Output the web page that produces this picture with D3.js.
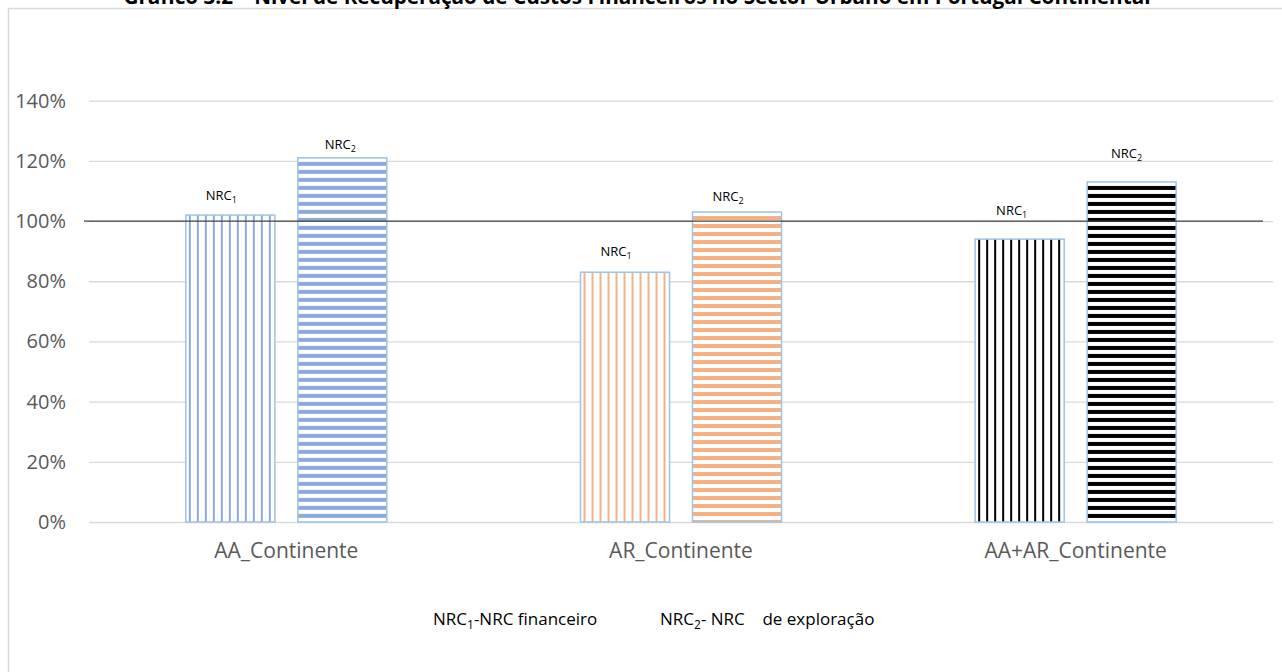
<!DOCTYPE html>
<html>
<head>
<meta charset="utf-8">
<script src="https://cdn.jsdelivr.net/npm/d3@7"></script>
<style>
  body { margin: 0; background: #fff; }
  svg { display: block; font-family: "Open Sans", Lato, sans-serif; }
</style>
</head>
<body>
<svg width="1282" height="672"></svg>
<script>
// data
var categories = ["AA_Continente", "AR_Continente", "AA+AR_Continente"];
var series = ["NRC1", "NRC2"];
var seriesSub = ["1", "2"];
var nrc1 = [1.02, 0.83, 0.94];
var nrc2 = [1.21, 1.03, 1.13];
var categoryColors = ["#8eaadb", "#f4b183", "#000000"];
var yTicks = [0, 0.2, 0.4, 0.6, 0.8, 1.0, 1.2, 1.4];
var refValue = 1.0;
var legendTexts = ["-NRC financeiro", "- NRC\u00a0\u00a0\u00a0 de exploração"];
var title = "Gráfico 3.2 – Nível de Recuperação de Custos Financeiros no Sector Urbano em Portugal Continental";

// the data labels were placed by hand in the original, nudge them the same way
var labelNudge = [[-9, 19], [-2, 13], [-9, 20], [-9, 15], [-8, 28], [-5, 28]];

var svg = d3.select("svg");

var plotLeft = 89, plotRight = 1273, plotTop = 100.7, plotBottom = 522;

// chart frame (runs off the right and bottom of the picture)
svg.append("rect")
    .attr("x", 8.5).attr("y", 8.5)
    .attr("width", 1300).attr("height", 700)
    .attr("fill", "#fff")
    .attr("stroke", "#d9d9d9")
    .attr("stroke-width", 1.5);

svg.append("text")
    .attr("x", 637).attr("y", 4)
    .attr("text-anchor", "middle")
    .attr("font-size", 20.7)
    .attr("font-weight", "bold")
    .attr("fill", "#000")
    .text(title);

var x0 = d3.scaleBand()
    .domain(categories)
    .range([plotLeft, plotRight]);

var x1 = d3.scaleBand()
    .domain(series)
    .range([x0.bandwidth() / 2 - 100.5, x0.bandwidth() / 2 + 100.5])
    .paddingInner(0.205);

var y = d3.scaleLinear()
    .domain([0, 1.4])
    .range([plotBottom, plotTop]);

// gridlines
var grid = svg.append("g")
    .attr("transform", "translate(" + plotLeft + ",0)")
    .call(d3.axisLeft(y).tickValues(yTicks).tickSize(-(plotRight - plotLeft)).tickFormat(""));
grid.select(".domain").remove();
grid.selectAll("line").attr("stroke", "#d9d9d9").attr("stroke-width", 1.3);

// y labels
var yAxis = svg.append("g")
    .attr("transform", "translate(" + plotLeft + ",0)")
    .call(d3.axisLeft(y).tickValues(yTicks).tickSize(0).tickPadding(23).tickFormat(d3.format(".0%")));
yAxis.select(".domain").remove();
yAxis.selectAll("text")
    .attr("font-size", 20)
    .attr("font-family", "'Open Sans', Lato, sans-serif")
    .attr("fill", "#595959");

// x labels
var xAxis = svg.append("g")
    .attr("transform", "translate(0," + plotBottom + ")")
    .call(d3.axisBottom(x0).tickSize(0));
xAxis.select(".domain").remove();
xAxis.selectAll("text")
    .attr("dy", null)
    .attr("y", 36)
    .attr("font-size", 21)
    .attr("font-family", "'Open Sans', Lato, sans-serif")
    .attr("fill", "#595959");

// bars
var rows = [];
categories.forEach(function(c, i) {
  [nrc1[i], nrc2[i]].forEach(function(v, j) {
    rows.push({cat: c, ci: i, s: series[j], si: j, value: v});
  });
});

var defs = svg.append("defs");
rows.forEach(function(d, k) {
  var bx = x0(d.cat) + x1(d.s), by = y(d.value);
  var p = defs.append("pattern")
      .attr("id", "pat" + k)
      .attr("patternUnits", "userSpaceOnUse")
      .attr("x", bx).attr("y", by)
      .attr("width", 8).attr("height", 8);
  p.append("rect").attr("width", 8).attr("height", 8).attr("fill", "#fff");
  if (d.si === 0) {
    p.append("rect").attr("x", 3).attr("y", 0).attr("width", 2).attr("height", 8)
        .attr("fill", categoryColors[d.ci]);
  } else {
    p.append("rect").attr("x", 0).attr("y", 4).attr("width", 8).attr("height", 4)
        .attr("fill", categoryColors[d.ci]);
  }
});

svg.append("g").selectAll("rect")
  .data(rows)
  .join("rect")
    .attr("x", function(d) { return x0(d.cat) + x1(d.s); })
    .attr("y", function(d) { return y(d.value); })
    .attr("width", x1.bandwidth())
    .attr("height", function(d) { return y(0) - y(d.value); })
    .attr("fill", function(d, k) { return "url(#pat" + k + ")"; })
    .attr("stroke", "#9dc3e6")
    .attr("stroke-width", 1.5);

// 100% reference line
svg.append("line")
    .attr("x1", plotLeft - 5).attr("x2", plotRight - 10)
    .attr("y1", y(refValue)).attr("y2", y(refValue))
    .attr("stroke", "#404040")
    .attr("stroke-width", 1.3);

// data labels
var lab = svg.append("g").selectAll("text")
  .data(rows)
  .join("text")
    .attr("x", function(d, k) { return x0(d.cat) + x1(d.s) + x1.bandwidth() / 2 + labelNudge[k][0]; })
    .attr("y", function(d, k) { return y(d.value) - labelNudge[k][1] + 4; })
    .attr("text-anchor", "middle")
    .attr("font-size", 13)
    .attr("fill", "#000");
lab.append("tspan").text("NRC");
lab.append("tspan")
    .attr("font-size", 9)
    .attr("dy", 3)
    .text(function(d) { return seriesSub[d.si]; });

// legend
var legendX = [433, 660];
var leg = svg.append("g").selectAll("text")
  .data(legendTexts)
  .join("text")
    .attr("x", function(d, i) { return legendX[i]; })
    .attr("y", 625)
    .attr("font-size", 17)
    .attr("fill", "#000");
leg.append("tspan").text("NRC");
leg.append("tspan").attr("font-size", 12).attr("dy", 4).text(function(d, i) { return seriesSub[i]; });
leg.append("tspan").attr("dy", -4).text(function(d) { return d; });
</script>
</body>
</html>
